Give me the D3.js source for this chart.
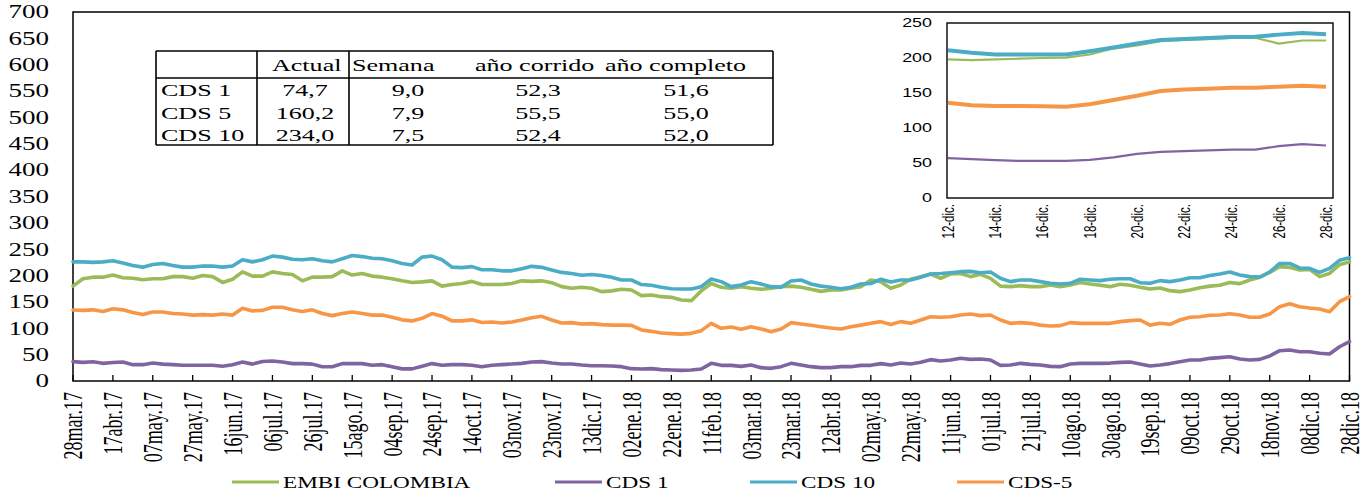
<!DOCTYPE html>
<html><head><meta charset="utf-8">
<script src="https://cdn.jsdelivr.net/npm/d3@7"></script>
<style>body{margin:0;background:#fff}svg{display:block}</style>
</head><body>
<svg id="chart" width="1370" height="495"></svg>
<script>
// ---------------- DATA ----------------
const dates = ["2017-03-28","2017-04-02","2017-04-07","2017-04-12","2017-04-17","2017-04-22","2017-04-27","2017-05-02","2017-05-07","2017-05-12","2017-05-17","2017-05-22","2017-05-27","2017-06-01","2017-06-06","2017-06-11","2017-06-16","2017-06-21","2017-06-26","2017-07-01","2017-07-06","2017-07-11","2017-07-16","2017-07-21","2017-07-26","2017-07-31","2017-08-05","2017-08-10","2017-08-15","2017-08-20","2017-08-25","2017-08-30","2017-09-04","2017-09-09","2017-09-14","2017-09-19","2017-09-24","2017-09-29","2017-10-04","2017-10-09","2017-10-14","2017-10-19","2017-10-24","2017-10-29","2017-11-03","2017-11-08","2017-11-13","2017-11-18","2017-11-23","2017-11-28","2017-12-03","2017-12-08","2017-12-13","2017-12-18","2017-12-23","2017-12-28","2018-01-02","2018-01-07","2018-01-12","2018-01-17","2018-01-22","2018-01-27","2018-02-01","2018-02-06","2018-02-11","2018-02-16","2018-02-21","2018-02-26","2018-03-03","2018-03-08","2018-03-13","2018-03-18","2018-03-23","2018-03-28","2018-04-02","2018-04-07","2018-04-12","2018-04-17","2018-04-22","2018-04-27","2018-05-02","2018-05-07","2018-05-12","2018-05-17","2018-05-22","2018-05-27","2018-06-01","2018-06-06","2018-06-11","2018-06-16","2018-06-21","2018-06-26","2018-07-01","2018-07-06","2018-07-11","2018-07-16","2018-07-21","2018-07-26","2018-07-31","2018-08-05","2018-08-10","2018-08-15","2018-08-20","2018-08-25","2018-08-30","2018-09-04","2018-09-09","2018-09-14","2018-09-19","2018-09-24","2018-09-29","2018-10-04","2018-10-09","2018-10-14","2018-10-19","2018-10-24","2018-10-29","2018-11-03","2018-11-08","2018-11-13","2018-11-18","2018-11-23","2018-11-28","2018-12-03","2018-12-08","2018-12-13","2018-12-18","2018-12-23","2018-12-28"];

const embiColombia = [180,194,197,197,201,196,195,192,194,194,198,198,195,200,198,187,193,207,199,199,207,204,202,190,197,197,198,209,201,204,199,197,194,190,187,188,190,180,183,185,189,183,183,183,
185,190,189,190,186.5,179,176,178,176,169.5,171,174,172.6,162,163,160,158.7,153.7,152.4,171,185,177.7,175.8,179,175.8,174,175.8,179,180,177.7,174,170,172.6,172.6,175.8,179,191.6,188.5,175.8,182,193,198,203,194.8,
203,204,198,202.4,194.8,180,179,181,179,179,182,179,182,187,184,181.5,179,183.4,181.5,177.7,174.5,176.4,171.4,169.5,172.6,177,180,181.5,187,184.7,191.6,196.7,206,217,215.6,210.6,211.8,198,204,220.7,226];

const cds1 = [36.7,35.4,36.5,33.5,35,36,31,31,34,32,31,30,30,30,30,28,31,36,32,37,38,36,33,33,32,27,27,33,33,33,30,31,27,23,23,28,33,30,31,31,30,27,30,31,
32.3,33.5,36,36.7,34,32.3,32.3,30.4,29,29,28.5,27.2,23.4,22.8,23.4,21.5,20.9,20.2,20.9,22.8,33.5,29.7,29.7,27.8,30.4,25.3,24,27.2,33.5,30.4,27.2,25.3,25.3,27.2,27.2,29.7,29.7,33,30.4,34,32.3,35.4,40.5,38,
39.8,43,41,41.7,39.8,29.7,30.4,33.5,31.6,30.4,27.8,27.2,32.3,33.5,33.5,33.5,34,35.4,36,32.3,28.5,30.4,33,36.7,39.8,39.8,43,44.3,46,41.7,39.8,41,47.4,57.5,58.8,55.6,55.6,52.5,51.2,65,74.7];

const cds10 = [226,226,225,226,228,224,219,216,221,223,219,216,216,218,218,216,218,230,226,230,237,235,231,230,232,228,226,232,238,236,233,232,228,223,220,235,237,230,216,215,217,211,211,209,
209,213,217.5,215.6,210.6,206,204,200.5,202,200,197,191.6,191.6,183,181.5,178,175,174.5,174.5,179,193.5,188.5,179,182,188.5,184,179,177.7,189.7,191.6,184,180,177.7,175,177.7,184,185,193,188,191.6,191.6,196.7,203,204,
205.5,207.4,208,205.5,206.8,194.8,188.5,191.6,191.6,188.5,185.3,184,185.3,193,191.6,190.4,193,194,194,186.5,185.3,190.4,188.5,191.6,196,196,200,203,206.8,201,198,197.3,206.8,223,223,214.4,213.7,206,213.7,229,234];

const cds5 = [134.7,134,135,132,137,135,130,126,131,131,128,127,125,126,125,127,125,138,133,134,140,140,135,132,135,128,124,128,131,128,125,125,121,116,114,119,128,123,114,114,116,111,112,110,
112,115.7,120,122.7,115.7,110,110.7,108,108.8,107,106,106,105.6,96.8,94.2,91,89.8,89,90.4,95.5,109.4,100,102.4,98,103,98.7,93.6,98.7,110.7,108,105.6,103,100.5,98.7,103,106,109.4,112.6,107,112.6,109.4,115.7,122,120.8,
122,125.2,127,124,125.2,115.7,109.4,110.7,109.4,106,104.3,105,110.7,109.4,109.4,109.4,109.4,112.6,114.5,115.7,106,109.4,107.5,115.7,120.8,122,124.6,125.2,127.7,125.2,120.8,120.8,127,141,146.7,141,138.5,136.6,131.5,150.5,160.2];

const seriesNames = ["EMBI COLOMBIA","CDS 1","CDS 10","CDS-5"];
const seriesColors = ["#9BBB59","#8064A2","#4BACC6","#F79646"];

const tickDates = ["2017-03-28","2017-04-17","2017-05-07","2017-05-27","2017-06-16","2017-07-06","2017-07-26","2017-08-15","2017-09-04","2017-09-24","2017-10-14","2017-11-03","2017-11-23","2017-12-13","2018-01-02","2018-01-22","2018-02-11","2018-03-03","2018-03-23","2018-04-12","2018-05-02","2018-05-22","2018-06-11","2018-07-01","2018-07-21","2018-08-10","2018-08-30","2018-09-19","2018-10-09","2018-10-29","2018-11-18","2018-12-08","2018-12-28"];
const tickLabels = ["28mar.17","17abr.17","07may.17","27may.17","16jun.17","06jul.17","26jul.17","15ago.17","04sep.17","24sep.17","14oct.17","03nov.17","23nov.17","13dic.17","02ene.18","22ene.18","11feb.18","03mar.18","23mar.18","12abr.18","02may.18","22may.18","11jun.18","01jul.18","21jul.18","10ago.18","30ago.18","19sep.18","09oct.18","29oct.18","18nov.18","08dic.18","28dic.18"];
const yTicks = [0,50,100,150,200,250,300,350,400,450,500,550,600,650,700];

// table
const tableHeader = ["", "Actual", "Semana", "año corrido", "año completo"];
const tableRows = ["CDS 1","CDS 5","CDS 10"];
const tableActual = ["74,7","160,2","234,0"];
const tableSemana = ["9,0","7,9","7,5"];
const tableCorrido = ["52,3","55,5","52,4"];
const tableCompleto = ["51,6","55,0","52,0"];

// inset
const insetDays = ["12-dic.","13-dic.","14-dic.","15-dic.","16-dic.","17-dic.","18-dic.","19-dic.","20-dic.","21-dic.","22-dic.","23-dic.","24-dic.","25-dic.","26-dic.","27-dic.","28-dic."];
const insetEmbi = [198,197,198,199,200,200.5,205,213.5,218,224,226,227,228.7,229,220.6,225,225];
const insetCds1 = [57,55.5,54,53,53,53,54.5,58,63,66,67,68,69,69,74,77,75];
const insetCds10 = [211,207.5,205,205,205,205,209.7,215,220.6,225.8,227,228.7,230,230.5,233.4,235.8,234];
const insetCds5 = [136,132.4,131.4,131.4,131,130.5,133.8,140,146,152.8,155,156,157.5,157.5,159,160.4,159];
const insetYTicks = [0,50,100,150,200,250];

// ---------------- DRAW ----------------
const svg = d3.select("#chart");
const serif = "'Liberation Serif','Times New Roman',serif";
const sans = "'Liberation Sans',Arial,sans-serif";
const parse = d3.timeParse("%Y-%m-%d");

const x = d3.scaleTime().domain([parse(dates[0]), parse(dates[dates.length-1])]).range([73, 1349.5]);
const y = d3.scaleLinear().domain([0,700]).range([381,12]);

function stretchedText(g, tx, ty, str, opts) {
  const t = g.append("text")
    .attr("transform", `translate(${tx},${ty}) scale(${opts.sx},1)` + (opts.rot ? ` rotate(${opts.rot})` : ""))
    .attr("text-anchor", opts.anchor || "start")
    .attr("font-family", opts.family || serif)
    .attr("font-size", opts.size)
    .attr("fill", "#000")
    .text(str);
  if (opts.dy) t.attr("dy", opts.dy);
  return t;
}

// main frame
svg.append("rect").attr("x",73).attr("y",12).attr("width",1349.5-73).attr("height",381-12)
  .attr("fill","none").attr("stroke","#000").attr("stroke-width",1.5);

// y labels
const gy = svg.append("g");
yTicks.forEach(v => stretchedText(gy, 49, y(v), String(v), {sx:1.5, size:18, anchor:"end", dy:"0.35em"}));

// x ticks and labels
const gx = svg.append("g");
tickDates.forEach((d,i) => {
  const xx = x(parse(d));
  gx.append("line").attr("x1",xx).attr("x2",xx).attr("y1",381).attr("y2",375).attr("stroke","#000").attr("stroke-width",1.3);
  stretchedText(gx, xx, 392, tickLabels[i], {sx:1.5, size:18, anchor:"end", dy:"0.35em", rot:-90});
});

// lines
const seriesData = [embiColombia, cds1, cds10, cds5];
const line = d3.line().x((d,i) => x(parse(dates[i]))).y(d => y(d));
seriesData.forEach((s,k) => {
  svg.append("path").datum(s).attr("d", line).attr("fill","none")
    .attr("stroke", seriesColors[k]).attr("stroke-width", 3.6).attr("stroke-linejoin","round").attr("stroke-linecap","round");
});

// legend
const legendX = [232, 555, 750, 957];
const gl = svg.append("g");
seriesNames.forEach((n,k) => {
  gl.append("line").attr("x1",legendX[k]).attr("x2",legendX[k]+47).attr("y1",482).attr("y2",482)
    .attr("stroke",seriesColors[k]).attr("stroke-width",3.2);
  stretchedText(gl, legendX[k]+51, 488, n, {sx:1.45, size:16});
});

// table
const gt = svg.append("g");
gt.append("rect").attr("x",156).attr("y",51).attr("width",773-156).attr("height",145-51).attr("fill","#fff");
[[156,51,773,51],[156,78,773,78],[156,145,773,145],[156,51,156,145],[257,51,257,145],[349,51,349,145],[773,51,773,145]]
  .forEach(l => gt.append("line").attr("x1",l[0]).attr("y1",l[1]).attr("x2",l[2]).attr("y2",l[3]).attr("stroke","#000").attr("stroke-width",1.6));
const tsx = 1.58, tsz = 16.5;
stretchedText(gt, 272, 71, tableHeader[1], {sx:tsx, size:tsz});
stretchedText(gt, 352, 71, tableHeader[2], {sx:tsx, size:tsz});
stretchedText(gt, 475, 71, tableHeader[3], {sx:tsx, size:tsz});
stretchedText(gt, 605, 71, tableHeader[4], {sx:tsx, size:tsz});
const rowBase = [95.5, 119, 141];
tableRows.forEach((r,i) => {
  stretchedText(gt, 161, rowBase[i], r, {sx:tsx, size:tsz});
  stretchedText(gt, 305, rowBase[i], tableActual[i], {sx:tsx, size:tsz, anchor:"middle"});
  stretchedText(gt, 408, rowBase[i], tableSemana[i], {sx:tsx, size:tsz, anchor:"middle"});
  stretchedText(gt, 538, rowBase[i], tableCorrido[i], {sx:tsx, size:tsz, anchor:"middle"});
  stretchedText(gt, 686, rowBase[i], tableCompleto[i], {sx:tsx, size:tsz, anchor:"middle"});
});

// inset
const gi = svg.append("g");
const ix = d3.scalePoint().domain(insetDays).range([948, 1326]);
const iy = d3.scaleLinear().domain([0,250]).range([198,23]);
gi.append("rect").attr("x",947).attr("y",23).attr("width",1333-947).attr("height",198-23)
  .attr("fill","#fff").attr("stroke","#000").attr("stroke-width",1.4);
insetYTicks.forEach(v => stretchedText(gi, 932, iy(v), String(v), {sx:1.43, size:12.5, family:sans, anchor:"end", dy:"0.35em"}));
insetDays.forEach((d,i) => {
  if (i % 2 === 0) stretchedText(gi, ix(d), 204, d, {sx:1.45, size:11.5, family:sans, anchor:"end", dy:"0.35em", rot:-90});
});
const insetSeries = [insetEmbi, insetCds1, insetCds10, insetCds5];
const insetWidths = [2.2, 2.2, 4, 4];
const iline = d3.line().x((d,i) => ix(insetDays[i])).y(d => iy(d));
insetSeries.forEach((s,k) => {
  gi.append("path").datum(s).attr("d", iline).attr("fill","none")
    .attr("stroke", seriesColors[k]).attr("stroke-width", insetWidths[k]).attr("stroke-linejoin","round");
});
</script>
</body></html>
